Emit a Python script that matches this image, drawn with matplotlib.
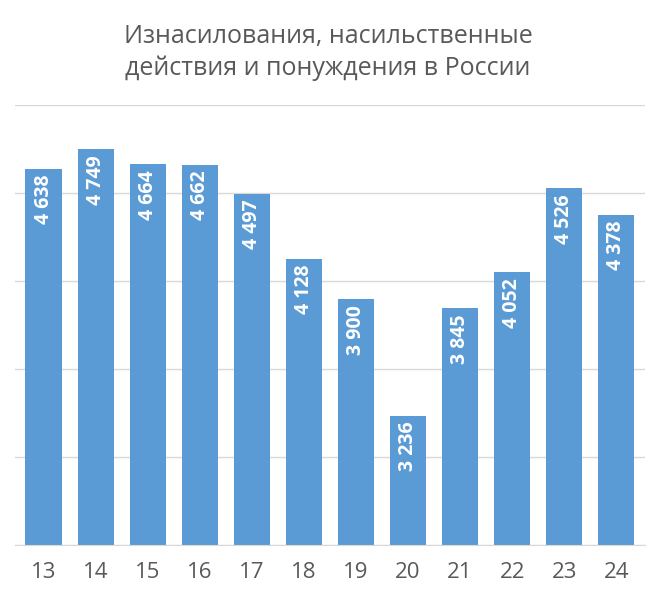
import matplotlib
matplotlib.use("Agg")
import matplotlib.pyplot as plt

years = ["13","14","15","16","17","18","19","20","21","22","23","24"]
values = [4638, 4749, 4664, 4662, 4497, 4128, 3900, 3236, 3845, 4052, 4526, 4378]
labels = ["4 638","4 749","4 664","4 662","4 497","4 128","3 900","3 236","3 845","4 052","4 526","4 378"]

plt.rcParams['font.family'] = ['Open Sans', 'DejaVu Sans']
fig = plt.figure(figsize=(6.56, 6.14), dpi=100)
ax = fig.add_axes([0.023, 0.112, 0.96, 0.717])
x = range(len(years))
ax.bar(x, values, width=0.7, color='#5b9bd5', zorder=2)
ax.set_ylim(2500, 5000)
ax.set_xlim(-0.55, len(years) - 0.45)
ax.set_yticks(range(2500, 5001, 500))
ax.yaxis.grid(True, color='#d9d9d9', linewidth=1, zorder=0)
ax.tick_params(axis='y', left=False, labelleft=False)
ax.tick_params(axis='x', length=0, labelsize=16, labelcolor='#595959', pad=12)
ax.set_xticks(list(x))
ax.set_xticklabels(years)
for s in ['top', 'right', 'left']:
    ax.spines[s].set_visible(False)
ax.spines['bottom'].set_color('#d9d9d9')
for i, (v, l) in enumerate(zip(values, labels)):
    ax.text(i, v - 35, l, rotation=90, ha='center', va='top', color='white',
            fontsize=14, fontweight='bold', zorder=3)
fig.text(0.5, 0.915, "Изнасилования, насильственные\nдействия и понуждения в России",
         ha='center', va='center', fontsize=18, color='#595959', linespacing=1.35)
fig.savefig("out.png", dpi=100, facecolor='white')
